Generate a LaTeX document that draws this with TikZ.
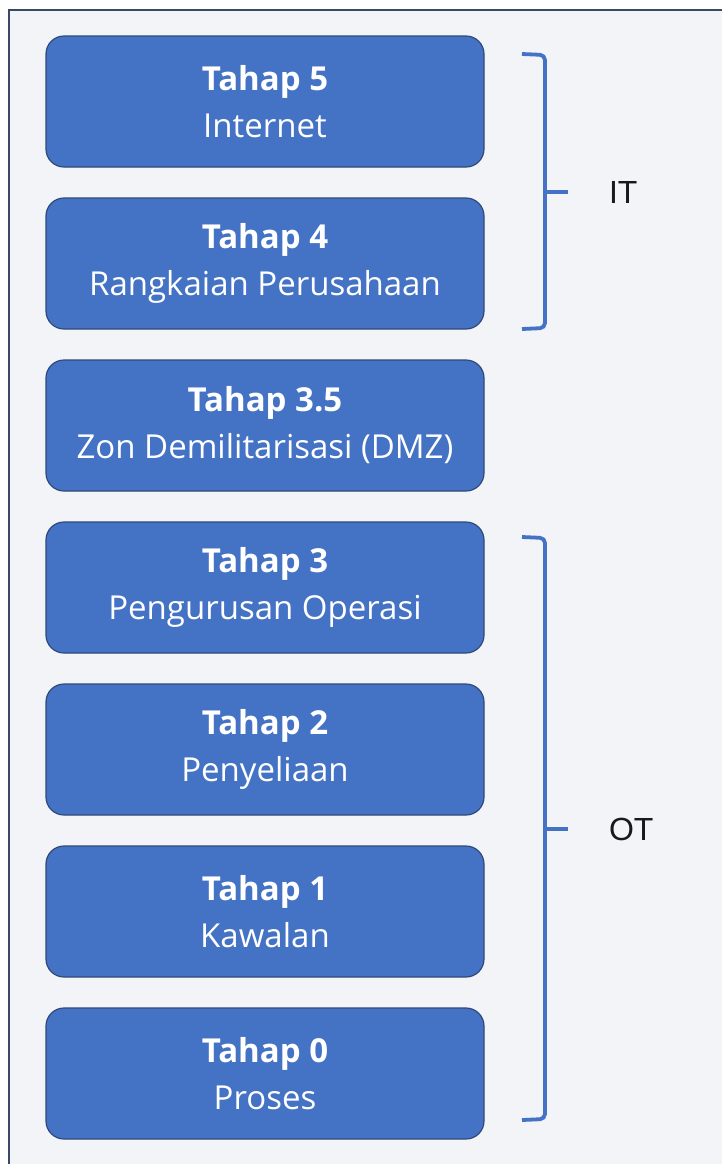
\documentclass[tikz,border=0pt]{standalone}
\usepackage{fontspec}
\setmainfont{Open Sans}
\newfontfamily\labelfont{Liberation Sans}
\usetikzlibrary{positioning,calc}
\definecolor{tahapblue}{HTML}{4472C4}
\definecolor{tahapedge}{HTML}{2F4A7A}
\definecolor{framebg}{HTML}{F2F4F8}
\definecolor{frameedge}{HTML}{3A4A66}
\tikzset{
tahapbox/.style={
  draw=tahapedge,
  fill=tahapblue,
  line width=0.6pt,
  rounded corners=9pt,
  minimum width=219pt,
  minimum height=65.5pt,
  align=center,
  text=white,
  font=\fontsize{16.5}{23.5}\selectfont
  },
bracket/.style={
  draw=tahapblue,
  line width=1.9pt,
  rounded corners=2.5pt
  },
grouplabel/.style={
  font=\labelfont\fontsize{16}{18}\selectfont,
  text=black!90
  }
}

\begin{document}
\begin{tikzpicture}[x=0.5pt,y=-0.5pt]
  \useasboundingbox (0,0) rectangle (722,1164);
  \fill[white] (0,0) rectangle (722,1164);
  \draw[fill=framebg,draw=frameedge,line width=0.7pt] (9,10) rectangle (740,1180);

  \node[tahapbox] (tahap5)  at (265,101.5) {\textbf{Tahap 5}\\Internet};
  \node[tahapbox] (tahap4)  at (265,263.5) {\textbf{Tahap 4}\\Rangkaian Perusahaan};
  \node[tahapbox] (tahap35) at (265,425.5) {\textbf{Tahap 3.5}\\Zon Demilitarisasi (DMZ)};
  \node[tahapbox] (tahap3)  at (265,587.5) {\textbf{Tahap 3}\\Pengurusan Operasi};
  \node[tahapbox] (tahap2)  at (265,749.5) {\textbf{Tahap 2}\\Penyeliaan};
  \node[tahapbox] (tahap1)  at (265,911.5) {\textbf{Tahap 1}\\Kawalan};
  \node[tahapbox] (tahap0)  at (265,1073.5) {\textbf{Tahap 0}\\Proses};

  \node[grouplabel,anchor=west] (it) at (602,192) {IT};
  \node[grouplabel,anchor=west] (ot) at (602,829) {OT};

  \draw[bracket] (522,54) -- (545,55) -- (545,192);
  \draw[bracket] (545,192) -- (545,328) -- (522,329);
  \draw[bracket] (545,192) -- (568,192);

  \draw[bracket] (522,537) -- (545,538) -- (545,829);
  \draw[bracket] (545,829) -- (545,1119) -- (522,1120);
  \draw[bracket] (545,829) -- (568,829);

\end{tikzpicture}
\end{document}
